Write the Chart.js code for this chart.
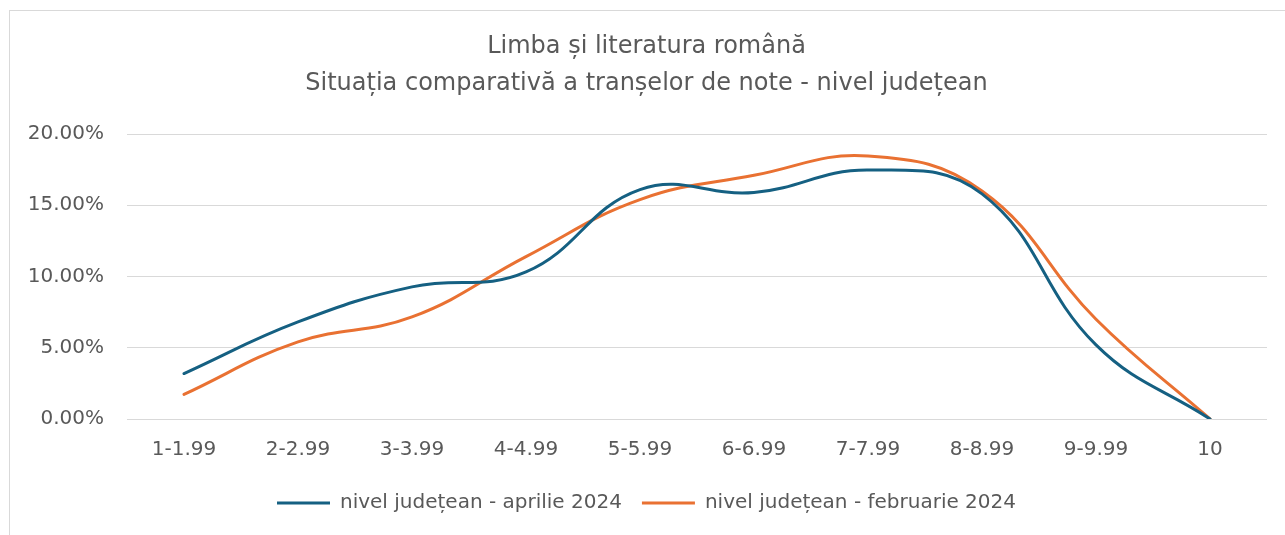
<!DOCTYPE html>
<html>
<head>
<meta charset="utf-8">
<script src="https://cdn.jsdelivr.net/npm/chart.js@4/dist/chart.umd.min.js"></script>
<style>
    html, body { margin: 0; padding: 0; background: #fff; overflow: hidden; }
    body { width: 1285px; height: 535px; position: relative; }
    #frame { position: absolute; left: 9px; top: 10px; width: 1300px; height: 540px; border: 1px solid #d9d9d9; }
    #chart { position: absolute; left: 0; top: 0; }
</style>
</head>
<body>
<div id="frame"></div>
<canvas id="chart" width="1310" height="535"></canvas>
<script>
// Intervale de note
const categories = ['1-1.99', '2-2.99', '3-3.99', '4-4.99', '5-5.99', '6-6.99', '7-7.99', '8-8.99', '9-9.99', '10'];

// Procente (%)
const aprilie2024 = [3.19, 6.81, 9.27, 10.32, 16.1, 15.9, 17.47, 15.8, 5.2, 0];
const februarie2024 = [1.73, 5.41, 7.16, 11.4, 15.4, 17.1, 18.45, 16.0, 7.0, 0];

const seriesNames = ['nivel județean - aprilie 2024', 'nivel județean - februarie 2024'];
const titleLines = ['Limba și literatura română', 'Situația comparativă a tranșelor de note - nivel județean'];
const yTicks = [0, 5, 10, 15, 20];

const textColor = '#595959';
const fontFamily = '"DejaVu Sans", sans-serif';

const ctx = document.getElementById('chart').getContext('2d');

new Chart(ctx, {
    type: 'line',
    data: {
        labels: categories,
        datasets: [{
            label: seriesNames[0],
            data: aprilie2024,
            borderColor: '#156082',
            backgroundColor: '#156082',
            borderWidth: 3,
            pointRadius: 0,
            tension: 0.42,
            borderCapStyle: 'round'
        }, {
            label: seriesNames[1],
            data: februarie2024,
            borderColor: '#E97132',
            backgroundColor: '#E97132',
            borderWidth: 3,
            pointRadius: 0,
            tension: 0.42,
            borderCapStyle: 'round'
        }]
    },
    options: {
        responsive: false,
        animation: false,
        devicePixelRatio: 1,
        layout: { padding: { left: 26, right: 43, top: 0, bottom: 12 } },
        plugins: {
            title: {
                display: true,
                text: titleLines,
                color: textColor,
                font: { family: fontFamily, size: 24, weight: 'normal', lineHeight: '37px' },
                padding: { top: 28.5, bottom: 31.5 }
            },
            legend: {
                position: 'bottom',
                labels: {
                    color: textColor,
                    font: { family: fontFamily, size: 20 },
                    boxWidth: 53,
                    boxHeight: 3,
                    padding: 20,
                    generateLabels: function (chart) {
                        const items = Chart.defaults.plugins.legend.labels.generateLabels(chart);
                        items.forEach(item => { item.lineWidth = 0; });
                        return items;
                    }
                }
            },
            tooltip: { enabled: false }
        },
        scales: {
            x: {
                offset: true,
                grid: { display: false, drawTicks: false },
                border: { display: false },
                ticks: { color: textColor, font: { family: fontFamily, size: 20 }, padding: 19, maxRotation: 0 },
                afterFit: function (scale) { scale.height = 54; }
            },
            y: {
                min: 0,
                max: 20,
                grid: { color: '#d9d9d9', lineWidth: 1, drawTicks: false },
                border: { display: false },
                afterBuildTicks: function (scale) { scale.ticks = yTicks.map(v => ({ value: v })); },
                ticks: {
                    color: textColor,
                    font: { family: fontFamily, size: 20 },
                    padding: 23,
                    callback: v => v.toFixed(2) + '%'
                },
                afterFit: function (scale) { scale.width = 101; }
            }
        }
    }
});
</script>
</body>
</html>
